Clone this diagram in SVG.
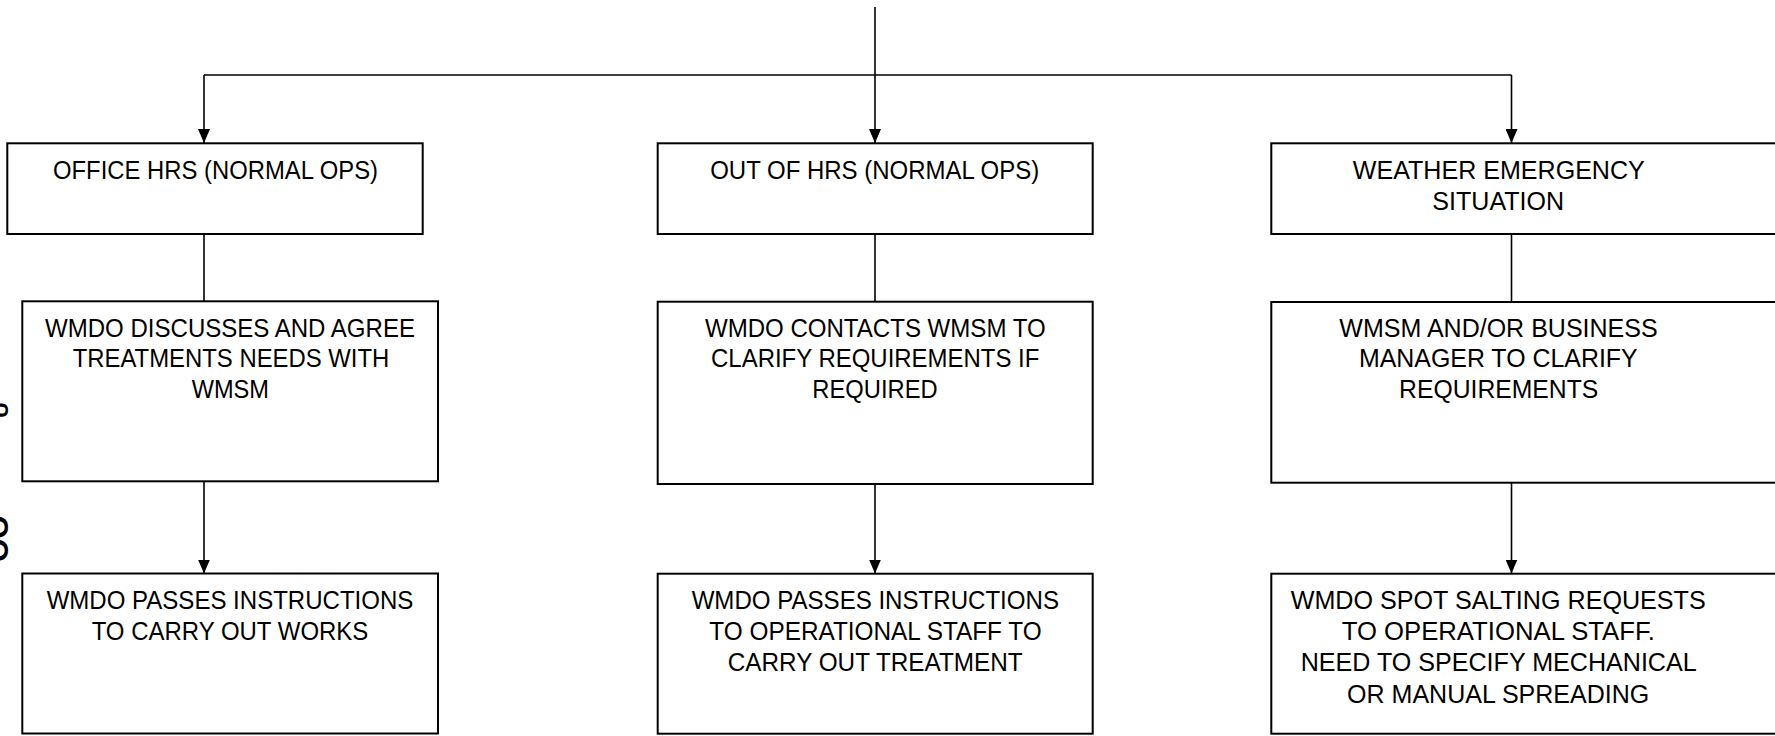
<svg xmlns="http://www.w3.org/2000/svg" width="1775" height="736" viewBox="0 0 1775 736">
<style>
  .box { fill: #ffffff; stroke: #000000; stroke-width: 2; }
  .conn { fill: none; stroke: #000000; stroke-width: 1.6; }
  .lbl { font-family: "Liberation Sans", Arial, sans-serif; font-size: 25.5px; fill: #000000; text-anchor: middle; }
  .frag { font-family: "Liberation Sans", Arial, sans-serif; font-weight: bold; fill: #000000; }
</style>
<defs>
  <marker id="arrow" markerUnits="userSpaceOnUse" markerWidth="14" markerHeight="12" refX="14" refY="6" orient="auto">
    <path d="M0,0 L14,6 L0,12 z" fill="#000000"/>
  </marker>
</defs>
<rect width="1775" height="736" fill="#ffffff"/>

<g id="fragments">
  <text class="frag" font-size="22" transform="translate(8,418) rotate(-90)">U</text>
  <text class="frag" font-size="30" transform="translate(8,562) rotate(-90)">OO</text>
</g>

<g id="connectors">
  <path class="conn" d="M875,7 L875,143" marker-end="url(#arrow)"/>
  <path class="conn" d="M204,75 L1511.5,75"/>
  <path class="conn" d="M204,75 L204,143" marker-end="url(#arrow)"/>
  <path class="conn" d="M1511.5,75 L1511.5,143" marker-end="url(#arrow)"/>
  <path class="conn" d="M204,234 L204,301"/>
  <path class="conn" d="M875,234 L875,302"/>
  <path class="conn" d="M1511.5,234 L1511.5,302"/>
  <path class="conn" d="M204,481 L204,573.5" marker-end="url(#arrow)"/>
  <path class="conn" d="M875,484 L875,573.5" marker-end="url(#arrow)"/>
  <path class="conn" d="M1511.5,483 L1511.5,573.5" marker-end="url(#arrow)"/>
</g>

<g id="office-hrs">
  <rect class="box" x="7.3" y="143.3" width="415.4" height="90.7"/>
  <text class="lbl" x="215.5" y="178.5" textLength="325" lengthAdjust="spacingAndGlyphs">OFFICE HRS (NORMAL OPS)</text>
</g>

<g id="out-of-hrs">
  <rect class="box" x="657.7" y="143.3" width="435" height="90.7"/>
  <text class="lbl" x="874.7" y="178.5" textLength="329" lengthAdjust="spacingAndGlyphs">OUT OF HRS (NORMAL OPS)</text>
</g>

<g id="weather-emergency">
  <rect class="box" x="1271.3" y="143.3" width="520" height="90.7"/>
  <text class="lbl" x="1498.8" y="178.5" textLength="292" lengthAdjust="spacingAndGlyphs">WEATHER EMERGENCY</text>
  <text class="lbl" x="1498.2" y="209.5" textLength="131.7" lengthAdjust="spacingAndGlyphs">SITUATION</text>
</g>

<g id="wmdo-discusses">
  <rect class="box" x="22.3" y="301.3" width="415.7" height="180"/>
  <text class="lbl" x="230" y="336.5" textLength="370" lengthAdjust="spacingAndGlyphs">WMDO DISCUSSES AND AGREE</text>
  <text class="lbl" x="231" y="367.3" textLength="316.7" lengthAdjust="spacingAndGlyphs">TREATMENTS NEEDS WITH</text>
  <text class="lbl" x="230.3" y="398" textLength="77.3" lengthAdjust="spacingAndGlyphs">WMSM</text>
</g>

<g id="wmdo-contacts">
  <rect class="box" x="657.7" y="301.7" width="435" height="182.3"/>
  <text class="lbl" x="875.3" y="336.5" textLength="340.7" lengthAdjust="spacingAndGlyphs">WMDO CONTACTS WMSM TO</text>
  <text class="lbl" x="875.2" y="367.3" textLength="328.3" lengthAdjust="spacingAndGlyphs">CLARIFY REQUIREMENTS IF</text>
  <text class="lbl" x="875" y="398" textLength="125.3" lengthAdjust="spacingAndGlyphs">REQUIRED</text>
</g>

<g id="wmsm-business">
  <rect class="box" x="1271.3" y="302" width="520" height="180.7"/>
  <text class="lbl" x="1498.5" y="336.5" textLength="318.3" lengthAdjust="spacingAndGlyphs">WMSM AND/OR BUSINESS</text>
  <text class="lbl" x="1498.3" y="367.3" textLength="278.7" lengthAdjust="spacingAndGlyphs">MANAGER TO CLARIFY</text>
  <text class="lbl" x="1498.7" y="398" textLength="199.3" lengthAdjust="spacingAndGlyphs">REQUIREMENTS</text>
</g>

<g id="wmdo-passes-works">
  <rect class="box" x="22.3" y="573.5" width="415.7" height="160"/>
  <text class="lbl" x="230" y="609" textLength="366.7" lengthAdjust="spacingAndGlyphs">WMDO PASSES INSTRUCTIONS</text>
  <text class="lbl" x="230" y="640" textLength="276.7" lengthAdjust="spacingAndGlyphs">TO CARRY OUT WORKS</text>
</g>

<g id="wmdo-passes-treatment">
  <rect class="box" x="657.7" y="573.7" width="435" height="160"/>
  <text class="lbl" x="875.3" y="609" textLength="367.3" lengthAdjust="spacingAndGlyphs">WMDO PASSES INSTRUCTIONS</text>
  <text class="lbl" x="875.5" y="640" textLength="332.3" lengthAdjust="spacingAndGlyphs">TO OPERATIONAL STAFF TO</text>
  <text class="lbl" x="875.2" y="671" textLength="295" lengthAdjust="spacingAndGlyphs">CARRY OUT TREATMENT</text>
</g>

<g id="wmdo-spot-salting">
  <rect class="box" x="1271.3" y="573.7" width="520" height="160"/>
  <text class="lbl" x="1498.2" y="609" textLength="415" lengthAdjust="spacingAndGlyphs">WMDO SPOT SALTING REQUESTS</text>
  <text class="lbl" x="1498.3" y="640" textLength="313.3" lengthAdjust="spacingAndGlyphs">TO OPERATIONAL STAFF.</text>
  <text class="lbl" x="1498.7" y="671" textLength="396" lengthAdjust="spacingAndGlyphs">NEED TO SPECIFY MECHANICAL</text>
  <text class="lbl" x="1498.2" y="702.5" textLength="302.3" lengthAdjust="spacingAndGlyphs">OR MANUAL SPREADING</text>
</g>
</svg>
